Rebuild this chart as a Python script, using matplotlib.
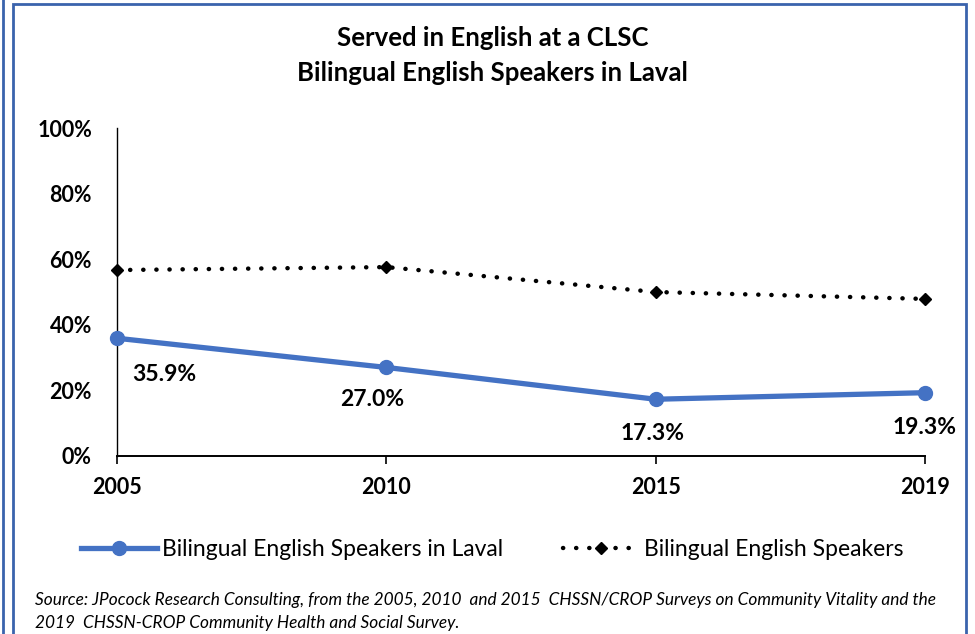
import matplotlib.pyplot as plt
from matplotlib.patches import Rectangle
from matplotlib.lines import Line2D

years = ['2005', '2010', '2015', '2019']
laval = [35.9, 27.0, 17.3, 19.3]
bilingual = [56.7, 57.6, 50.0, 47.9]
laval_labels = ['35.9%', '27.0%', '17.3%', '19.3%']

plt.rcParams['font.family'] = ['Lato', 'DejaVu Sans']

fig = plt.figure(figsize=(9.75, 6.34), dpi=100)
ax = fig.add_axes([0.12, 0.2808, 0.8287, 0.5172])

x = list(range(len(years)))
ax.plot(x, bilingual, color='black', linewidth=3.2, linestyle=(0, (0.05, 2.9)),
        dash_capstyle='round', marker='D', markersize=6, label='Bilingual English Speakers',
        zorder=3)
ax.plot(x, laval, color='#4472C4', linewidth=3.8, marker='o', markersize=10,
        label='Bilingual English Speakers in Laval', zorder=4)

offsets = [(34, -26), (-10, -23), (-2, -25), (0, -25)]
for i, (v, lab) in enumerate(zip(laval, laval_labels)):
    ax.annotate(lab, (x[i], v), xytext=offsets[i], textcoords='offset points',
                ha='center', va='center', fontsize=16.5, fontweight='bold')

ax.set_xlim(0, 3)
ax.set_ylim(0, 100)
ax.set_xticks(x)
ax.set_xticklabels(years, fontsize=15.5, fontweight='bold')
ax.set_yticks([0, 20, 40, 60, 80, 100])
ax.set_yticklabels([f'{t}%' for t in range(0, 101, 20)], fontsize=15.5, fontweight='bold')
ax.tick_params(axis='y', length=0, pad=18)
ax.tick_params(axis='x', direction='out', length=6, width=1.2, pad=9)
ax.spines['top'].set_visible(False)
ax.spines['right'].set_visible(False)
ax.spines['left'].set_linewidth(1)
ax.spines['bottom'].set_linewidth(1.4)
for ln in ax.lines:
    ln.set_clip_on(False)

fig.text(0.505, 0.94, 'Served in English at a CLSC', ha='center', va='center',
         fontsize=18.5, fontweight='bold')
fig.text(0.505, 0.885, 'Bilingual English Speakers in Laval', ha='center', va='center',
         fontsize=18.5, fontweight='bold')

handles = [Line2D([], [], color='#4472C4', linewidth=3.8, marker='o', markersize=10),
           Line2D([], [], color='black', linewidth=3.2, linestyle=(0, (0.05, 2.9)),
                  dash_capstyle='round', marker='D', markersize=6)]
fig.legend(handles, ['Bilingual English Speakers in Laval', 'Bilingual English Speakers'],
           loc='center', bbox_to_anchor=(0.505, 0.133), ncol=2, frameon=False,
           fontsize=16.5, handlelength=3.3, columnspacing=2.6, handletextpad=0.25)

fig.text(0.036, 0.053, 'Source: JPocock Research Consulting, from the 2005, 2010  and 2015  '
         'CHSSN/CROP Surveys on Community Vitality and the', fontsize=12.4, style='italic',
         va='center')
fig.text(0.036, 0.018, '2019  CHSSN-CROP Community Health and Social Survey.', fontsize=12.4,
         style='italic', va='center')

fig.add_artist(Rectangle((13 / 975, -0.01), (966 - 13) / 975, 1 - 4 / 634 + 0.01,
                         transform=fig.transFigure, fill=False, edgecolor='#3A63AD',
                         linewidth=2))
fig.add_artist(Line2D([3 / 975, 3 / 975], [0, 1], transform=fig.transFigure,
                      color='#3A63AD', linewidth=2))

fig.savefig('out.png', dpi=100)
